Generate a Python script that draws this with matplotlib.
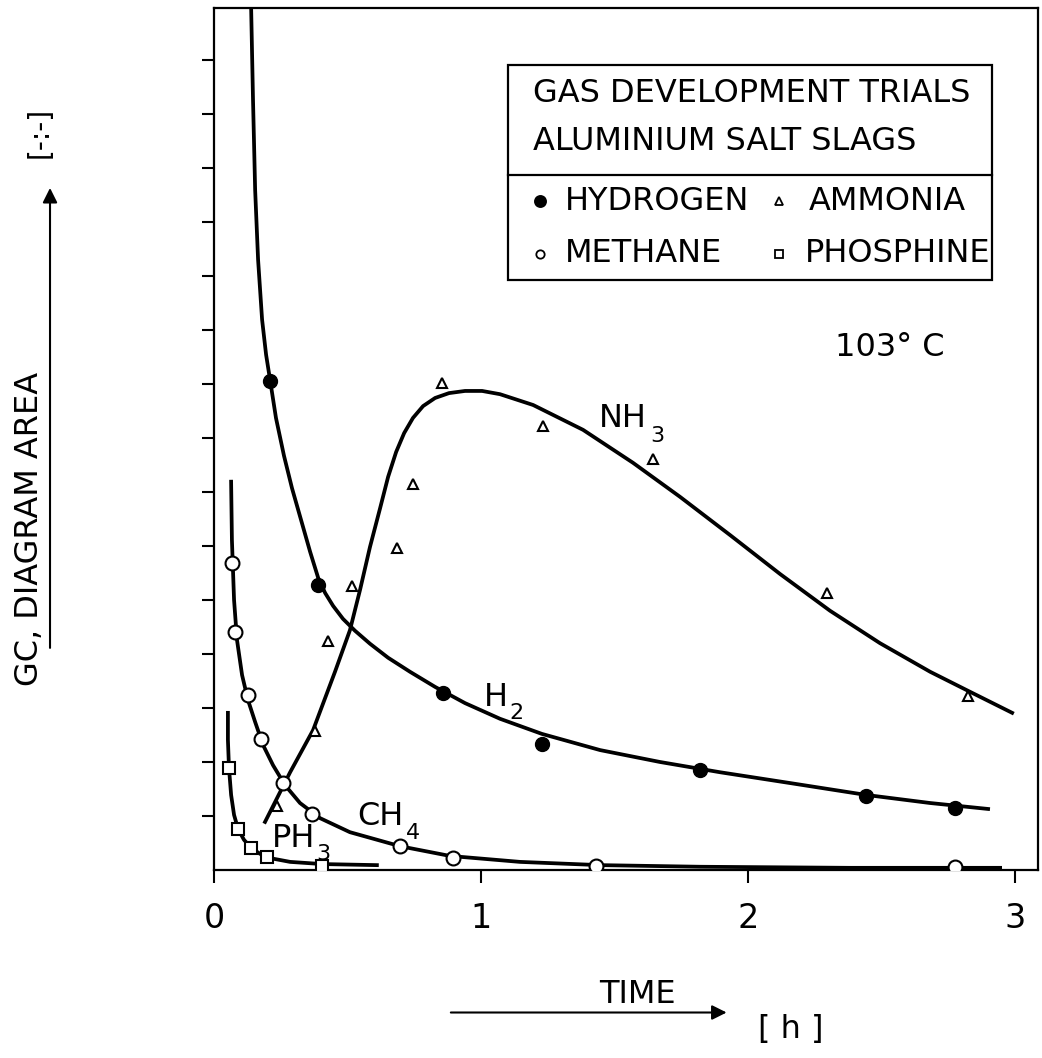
import matplotlib
matplotlib.use("Agg")
import matplotlib.pyplot as plt
from matplotlib.patches import Rectangle, FancyArrowPatch

plt.rcParams['font.family'] = ['DejaVu Sans']

# measured points, time [h] vs GC area [-]
h2_t = [0.21, 0.39, 0.858, 1.228, 1.82, 2.442, 2.775]
h2_a = [9.06, 5.28, 3.28, 2.33, 1.85, 1.37, 1.15]

nh3_t = [0.236, 0.378, 0.427, 0.517, 0.685, 0.745, 0.854, 1.232, 1.644, 2.296, 2.824]
nh3_a = [1.19, 2.57, 4.24, 5.26, 5.96, 7.15, 9.02, 8.22, 7.61, 5.13, 3.22]

ch4_t = [0.067, 0.079, 0.127, 0.176, 0.258, 0.367, 0.697, 0.895, 1.431, 2.775]
ch4_a = [5.69, 4.41, 3.24, 2.43, 1.61, 1.04, 0.44, 0.22, 0.07, 0.06]

ph3_t = [0.056, 0.09, 0.139, 0.199, 0.404]
ph3_a = [1.89, 0.76, 0.41, 0.24, 0.07]

# hand-drawn fit curves
h2_fit_t = [0.139, 0.146, 0.154, 0.165, 0.18, 0.195, 0.21, 0.232, 0.262, 0.292, 0.326,
            0.36, 0.39, 0.416, 0.446, 0.483, 0.528, 0.584, 0.652, 0.734, 0.828, 0.94,
            1.071, 1.228, 1.446, 1.67, 1.895, 2.157, 2.442, 2.682, 2.899]
h2_fit_a = [15.96, 14.26, 12.59, 11.3, 10.19, 9.54, 9.07, 8.37, 7.67, 7.07, 6.48,
            5.89, 5.41, 5.13, 4.89, 4.65, 4.43, 4.19, 3.93, 3.67, 3.39, 3.09,
            2.8, 2.52, 2.22, 2.0, 1.81, 1.61, 1.39, 1.24, 1.13]

nh3_fit_t = [0.191, 0.285, 0.371, 0.453, 0.509, 0.547, 0.584, 0.622, 0.652, 0.682,
             0.712, 0.745, 0.783, 0.828, 0.88, 0.94, 1.004, 1.071, 1.195, 1.382,
             1.569, 1.745, 1.933, 2.12, 2.307, 2.494, 2.682, 2.831, 2.989]
nh3_fit_a = [0.89, 1.81, 2.59, 3.67, 4.44, 5.19, 5.98, 6.7, 7.28, 7.74,
             8.09, 8.37, 8.59, 8.74, 8.83, 8.87, 8.87, 8.81, 8.61, 8.15,
             7.54, 6.91, 6.2, 5.48, 4.8, 4.2, 3.67, 3.3, 2.91]

ch4_fit_t = [0.064, 0.067, 0.075, 0.086, 0.105, 0.127, 0.154, 0.184, 0.221, 0.266,
             0.322, 0.397, 0.509, 0.697, 0.884, 1.146, 1.446, 1.82, 2.382, 2.944]
ch4_fit_a = [7.19, 6.11, 5.0, 4.26, 3.61, 3.15, 2.74, 2.31, 1.94, 1.57,
             1.24, 0.96, 0.7, 0.44, 0.26, 0.15, 0.09, 0.06, 0.04, 0.04]

ph3_fit_t = [0.052, 0.052, 0.056, 0.064, 0.075, 0.09, 0.112, 0.139, 0.172, 0.21,
             0.285, 0.404, 0.61]
ph3_fit_a = [2.91, 2.41, 1.89, 1.39, 1.02, 0.76, 0.56, 0.41, 0.3, 0.22,
             0.15, 0.11, 0.09]

x_ticks = [0, 1, 2, 3]
y_ticks = list(range(1, 16))

fig = plt.figure(figsize=(10.42, 10.58), dpi=100)
ax = fig.add_axes([0.2054, 0.1777, 0.7908, 0.8147])

lw = 2.7
for t, a in [(h2_fit_t, h2_fit_a), (nh3_fit_t, nh3_fit_a),
             (ch4_fit_t, ch4_fit_a), (ph3_fit_t, ph3_fit_a)]:
    ax.plot(t, a, color='black', lw=lw, solid_joinstyle='round')

ax.plot(h2_t, h2_a, 'o', ms=10, color='black', zorder=5)
ax.plot(nh3_t, nh3_a, '^', ms=7, mfc='white', mec='black', mew=1.5, zorder=5)
ax.plot(ch4_t, ch4_a, 'o', ms=10, mfc='white', mec='black', mew=1.5, zorder=5)
ax.plot(ph3_t, ph3_a, 's', ms=8.5, mfc='white', mec='black', mew=1.5, zorder=5)

ax.set_xlim(0, 3.086)
ax.set_ylim(0, 15.96)
ax.set_xticks(x_ticks)
ax.set_xticklabels([str(v) for v in x_ticks])
ax.set_yticks(y_ticks)
ax.set_yticklabels([])
ax.tick_params(axis='both', direction='out', length=9, width=1.5, labelsize=24, pad=14)
for s in ax.spines.values():
    s.set_linewidth(1.6)

# curve labels with subscripts
fs = 23
ax.text(1.44, 8.2, 'NH', fontsize=fs, va='baseline')
ax.text(1.635, 7.92, '3', fontsize=16, va='baseline')
ax.text(1.01, 3.04, 'H', fontsize=fs, va='baseline')
ax.text(1.105, 2.8, '2', fontsize=16, va='baseline')
ax.text(0.535, 0.83, 'CH', fontsize=fs, va='baseline')
ax.text(0.72, 0.58, '4', fontsize=16, va='baseline')
ax.text(0.217, 0.43, 'PH', fontsize=fs, va='baseline')
ax.text(0.382, 0.18, '3', fontsize=16, va='baseline')
ax.text(0.754, 0.606, '103° C', transform=ax.transAxes, fontsize=fs, va='center')

# legend box
ax.add_patch(Rectangle((0.357, 0.684), 0.587, 0.25, transform=ax.transAxes,
                       fill=False, lw=1.6, color='black', zorder=6))
ax.plot([0.357, 0.944], [0.806, 0.806], transform=ax.transAxes, color='black', lw=1.6)
ax.text(0.387, 0.901, 'GAS DEVELOPMENT TRIALS', transform=ax.transAxes, fontsize=fs, va='center')
ax.text(0.387, 0.845, 'ALUMINIUM SALT SLAGS', transform=ax.transAxes, fontsize=fs, va='center')
entries = [('o', 'black', 0.396, 0.776, 'HYDROGEN', 0.426),
           ('^', 'white', 0.686, 0.776, 'AMMONIA', 0.722),
           ('o', 'white', 0.396, 0.715, 'METHANE', 0.426),
           ('s', 'white', 0.686, 0.715, 'PHOSPHINE', 0.717)]
for m, fc, mx, my, lab, tx in entries:
    ax.plot([mx], [my], m, transform=ax.transAxes, ms=8 if fc == 'black' else 6,
            mfc=fc, mec='black', mew=1.3)
    ax.text(tx, my, lab, transform=ax.transAxes, fontsize=fs, va='center')

# axis titles with arrows
fig.text(0.028, 0.50, 'GC, DIAGRAM AREA', rotation=90, fontsize=fs, ha='center', va='center')
fig.text(0.038, 0.875, '[-:-]', rotation=90, fontsize=20, ha='center', va='center')
fig.add_artist(FancyArrowPatch((0.048, 0.385), (0.048, 0.825), transform=fig.transFigure,
                               arrowstyle='-|>', mutation_scale=22, lw=1.5, color='black'))
fig.text(0.612, 0.045, 'TIME', fontsize=fs, ha='center', va='bottom')
fig.add_artist(FancyArrowPatch((0.43, 0.043), (0.70, 0.043), transform=fig.transFigure,
                               arrowstyle='-|>', mutation_scale=22, lw=1.5, color='black'))
fig.text(0.727, 0.027, '[ h ]', fontsize=fs, ha='left', va='center')

fig.savefig('out.png', dpi=100)
